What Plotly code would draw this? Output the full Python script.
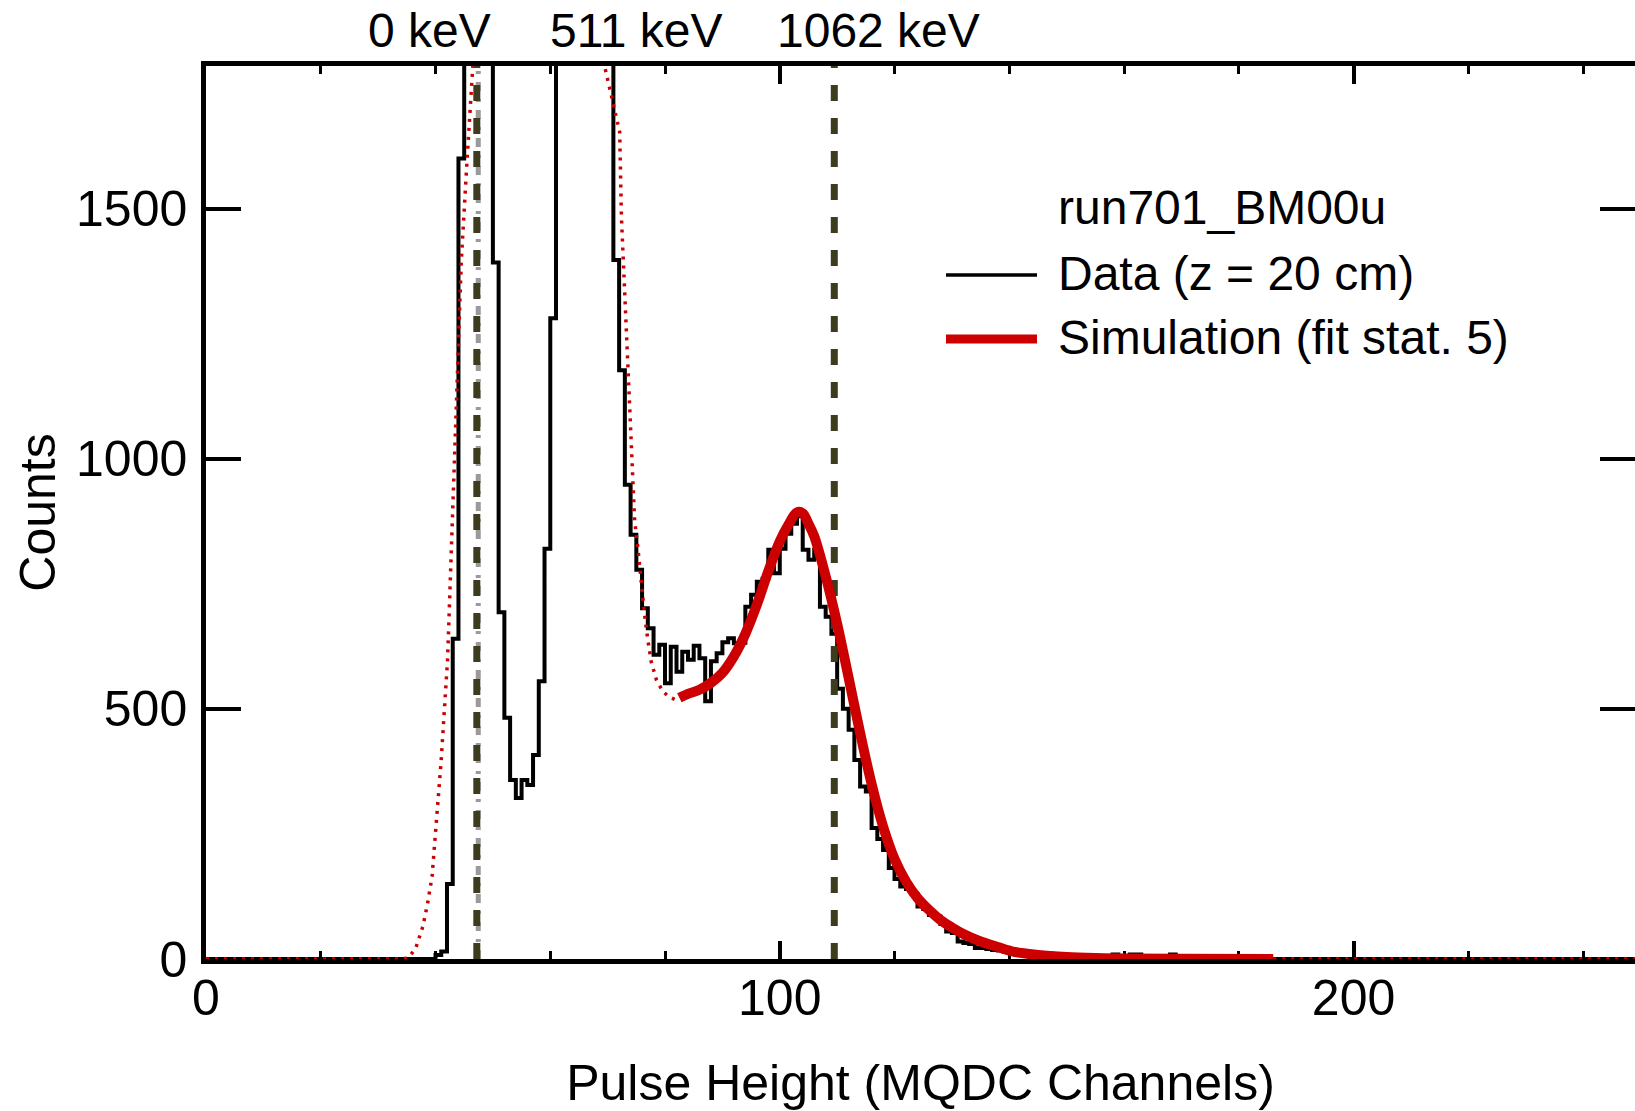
import plotly.graph_objects as go

# ---------------- data ----------------
# Measured histogram: bins of width 1 channel, left edge = channel number
hist_first_channel = 38
hist_counts = [
    0, 0, 8, 15, 150, 640, 1600, 3500, 12000, 25000,        # 38-47
    9000, 3000, 1392, 693, 482, 358, 322, 358, 348, 408,     # 48-57
    555, 820, 1281, 2200, 2800, 3300, 3600, 3700, 3500, 3100,  # 58-67
    2700, 2300, 1900, 1397, 1177, 948, 848, 778, 701, 661,   # 68-77
    608, 628, 551, 624, 574, 614, 598, 626, 601, 515,        # 78-87
    595, 611, 633, 641, 631, 632, 704, 728, 754, 760,        # 88-97
    818, 771, 820, 850, 870, 885, 818, 798, 818, 704,        # 98-107
    684, 650, 540, 500, 458, 398, 345, 335, 262, 240,        # 108-117
    218, 182, 160, 145, 140, 130, 105, 100, 88, 85,          # 118-127
    70, 55, 52, 35, 32, 30, 22, 22, 20, 18,                  # 128-137
    17, 15, 12, 10, 8, 7, 5, 5, 4, 3,                        # 138-147
    3, 2, 2, 2, 1, 2, 7, 1, 1, 2,                            # 148-157
    9, 1, 1, 9, 9, 1, 0, 1, 0, 1,                            # 158-167
    9, 1, 0, 1, 0, 0, 1, 0, 0, 0,                            # 168-177
]
hist_last_channel = 250

# Simulation curve: outside the fit range (dotted)
sim_low_ch = [0, 34, 35.2, 36.5, 37.8, 38.6, 39.4, 40.1, 41.0, 42.1, 42.7, 43.3,
              43.9, 44.5, 45.5, 46.5, 47.5, 50, 55, 60, 65, 68, 69.5, 72.1, 72.4,
              72.9, 73.5, 74.1, 74.7, 75.3, 75.8, 76.4, 77.0, 77.6, 78.5, 79.6,
              80.7, 81.7, 82.5]
sim_low_val = [0, 0, 2, 20, 65, 110, 165, 265, 399, 598, 800, 998,
               1198, 1397, 1597, 1785, 2100, 3000, 2600, 3200, 2500, 2000, 1783, 1653, 1483,
               1351, 1184, 1031, 877, 818, 758, 692, 638, 594, 558, 535,
               524, 519, 522]
# Simulation curve inside the fit range (solid)
sim_fit_ch = [82.5, 84, 86, 88, 90, 92, 94, 96, 98, 100, 101.5, 103, 104, 105, 106,
              108, 110, 112, 114, 116, 118, 120, 122, 124, 126, 128, 130, 132, 135,
              138, 141, 145, 150, 155, 160, 170, 186]
sim_fit_val = [522, 530, 538, 552, 572, 605, 650, 708, 775, 835, 868, 893, 891, 870, 845,
               765, 670, 562, 452, 350, 265, 200, 155, 122, 98, 78, 63, 50, 35,
               24, 14, 8, 4, 2, 1, 0.3, 0]
sim_high_ch = [186, 250]
sim_high_val = [0, 0]

# Energy calibration markers (channels)
marker_0kev_ch = 47.2
marker_1062kev_ch = 109.5
energy_labels = ["0 keV", "511 keV", "1062 keV"]
energy_label_ch = [38.9, 75.0, 117.2]

y_max = 1785
x_max = 249.05
y_tickvals = [0, 500, 1000, 1500]
x_tickvals = [0, 100, 200]

legend_title = "run701_BM00u"
legend_labels = ["Data (z = 20 cm)", "Simulation (fit stat. 5)"]

# ---------------- build step data ----------------
counts_full = [0] * hist_first_channel + hist_counts
n_bins = hist_last_channel
counts_full = counts_full + [0] * (n_bins - len(counts_full))
step_x = list(range(n_bins)) + [n_bins]
step_y = counts_full + [counts_full[-1]]

RED = "#cc0000"
OLIVE = "#3e3c1f"
FONT = "Liberation Sans, Arial, Helvetica, sans-serif"

fig = go.Figure()

# data histogram
fig.add_trace(go.Scatter(x=step_x, y=step_y, mode="lines", line_shape="hv",
                         line=dict(color="black", width=4), showlegend=False,
                         hoverinfo="skip"))
# gray dash-dot line under the 0 keV marker
fig.add_trace(go.Scatter(x=[marker_0kev_ch + 0.25] * 2, y=[0, y_max], mode="lines",
                         line=dict(color="#9a9a9a", width=5, dash="9px,8px,3px,8px"),
                         showlegend=False, hoverinfo="skip"))
# olive dashed markers
for xv in (marker_0kev_ch, marker_1062kev_ch):
    fig.add_trace(go.Scatter(x=[xv, xv], y=[0, y_max], mode="lines",
                             line=dict(color=OLIVE, width=7, dash="16px,17px"),
                             showlegend=False, hoverinfo="skip"))
# simulation dotted parts
for cx, cy in ((sim_low_ch, sim_low_val), (sim_high_ch, sim_high_val)):
    fig.add_trace(go.Scatter(x=cx, y=cy, mode="lines",
                             line=dict(color=RED, width=3.5, dash="3px,6px"),
                             showlegend=False, hoverinfo="skip"))
# simulation fit region
fig.add_trace(go.Scatter(x=sim_fit_ch, y=sim_fit_val, mode="lines", line_shape="spline",
                         line=dict(color=RED, width=10), showlegend=False,
                         hoverinfo="skip"))
# dummy for right axis ticks
fig.add_trace(go.Scatter(x=[None], y=[None], yaxis="y2", showlegend=False,
                         hoverinfo="skip"))

W, H = 1635, 1111
L, R, T, B = 206, 0, 66, 152
pw, ph = W - L - R, H - T - B

def px_to_paper(px, py):
    return (px - L) / pw, (H - B - py) / ph

fig.update_layout(
    width=W, height=H,
    margin=dict(l=L, r=R, t=T, b=B, pad=0),
    paper_bgcolor="white", plot_bgcolor="white",
    font=dict(family=FONT, size=50, color="black"),
    showlegend=False,
    xaxis=dict(
        range=[0, x_max], tickvals=x_tickvals, ticks="inside", ticklen=18, tickwidth=4,
        tickcolor="black", showline=True, linewidth=4.5, linecolor="black",
        mirror="ticks", showgrid=False, zeroline=False,
        tickfont=dict(size=50), ticklabelstandoff=-9,
        minor=dict(tickvals=[v for v in range(20, 260, 20) if v % 100 != 0],
                   ticks="inside", ticklen=8, tickwidth=3, tickcolor="black",
                   showgrid=False),
        title=dict(text="Pulse Height (MQDC Channels)", font=dict(size=50), standoff=45),
        layer="below traces",
    ),
    yaxis=dict(
        range=[0, y_max], tickvals=y_tickvals, ticks="inside", ticklen=35, tickwidth=4,
        tickcolor="black", showline=True, linewidth=4.5, linecolor="black",
        mirror=False, showgrid=False, zeroline=False,
        tickfont=dict(size=50), ticklabelstandoff=4,
        title=dict(text="Counts", font=dict(size=50), standoff=6),
    ),
    yaxis2=dict(
        overlaying="y", side="right", range=[0, y_max], tickvals=y_tickvals,
        ticks="inside", ticklen=35, tickwidth=4, tickcolor="black",
        showticklabels=False, showline=False, showgrid=False, zeroline=False,
    ),
)

# energy labels above the plot
for txt, xc in zip(energy_labels, energy_label_ch):
    fig.add_annotation(x=xc, y=(H - B - 31) / ph, xref="x", yref="paper", text=txt,
                       showarrow=False, xanchor="center", yanchor="middle",
                       font=dict(size=48, family=FONT, color="black"))

# legend (drawn manually)
lx0, ly_black = px_to_paper(946, 275)
lx1, _ = px_to_paper(1037, 275)
_, ly_red = px_to_paper(946, 339)
fig.add_shape(type="line", xref="paper", yref="paper", x0=lx0, x1=lx1, y0=ly_black,
              y1=ly_black, line=dict(color="black", width=3.5))
fig.add_shape(type="line", xref="paper", yref="paper", x0=lx0, x1=lx1, y0=ly_red,
              y1=ly_red, line=dict(color=RED, width=9))
tx, _ = px_to_paper(1056, 0)
for txt, py in zip([legend_title] + legend_labels, [207, 273, 337]):
    _, yp = px_to_paper(0, py)
    fig.add_annotation(x=tx, y=yp, xref="paper", yref="paper", text=txt,
                       showarrow=False, xanchor="left", yanchor="middle",
                       font=dict(size=48, family=FONT, color="black"))

fig.write_html("out.html")
